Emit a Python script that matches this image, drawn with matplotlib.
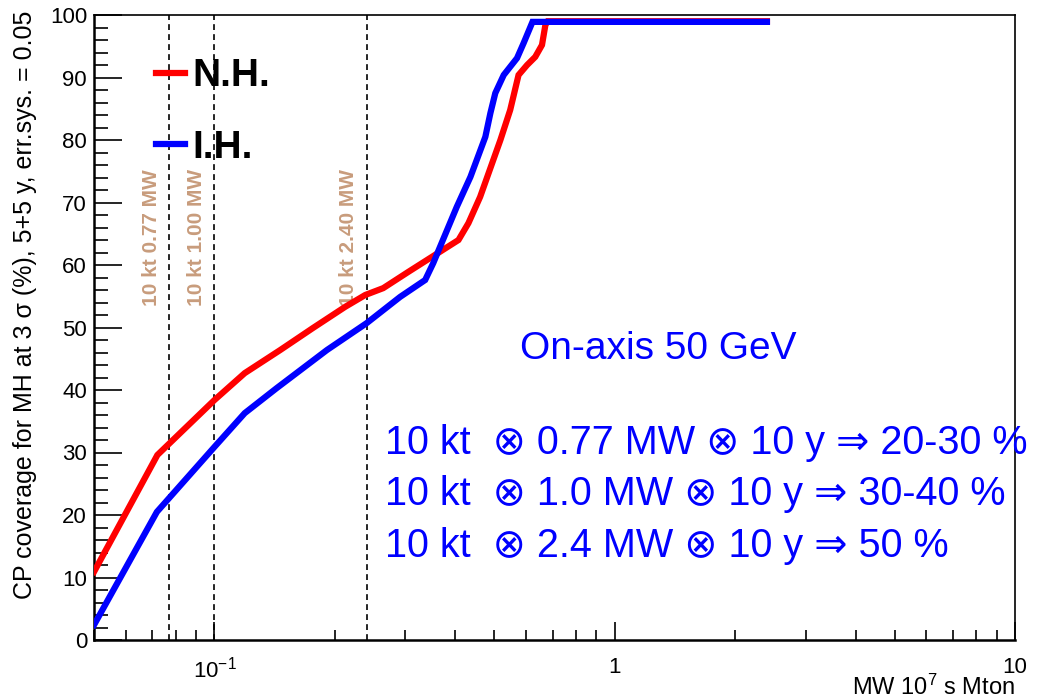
import matplotlib
matplotlib.use('Agg')
import matplotlib.pyplot as plt
from matplotlib.ticker import FixedLocator, NullFormatter, MultipleLocator

plt.rcParams['font.family'] = ['Liberation Sans', 'DejaVu Sans']
plt.rcParams['mathtext.fontset'] = 'custom'
plt.rcParams['mathtext.rm'] = 'Liberation Sans'

# Normal hierarchy (red)
x_nh = [0.05, 0.072, 0.1, 0.119, 0.146, 0.176, 0.212, 0.238, 0.264, 0.305,
        0.407, 0.431, 0.461, 0.518, 0.548, 0.575, 0.604, 0.633, 0.658, 0.671,
        0.68, 2.4]
y_nh = [10.9, 29.6, 38.4, 42.7, 46.4, 49.9, 53.3, 55.2, 56.3, 58.9,
        64.0, 66.7, 70.9, 80.0, 84.8, 90.4, 92.0, 93.3, 95.2, 98.4,
        99.0, 99.0]

# Inverted hierarchy (blue)
x_ih = [0.05, 0.0718, 0.1, 0.119, 0.143, 0.191, 0.24, 0.291, 0.336, 0.352,
        0.366, 0.403, 0.436, 0.475, 0.489, 0.503, 0.528, 0.570, 0.592, 0.623,
        2.4]
y_ih = [2.4, 20.5, 30.9, 36.3, 40.3, 46.4, 50.7, 54.9, 57.6, 60.3,
        62.9, 69.3, 74.1, 80.5, 84.3, 87.5, 90.4, 93.1, 95.5, 98.9,
        98.9]

# reference exposures (dashed lines)
ref_x = [0.077, 0.1, 0.24]
ref_labels = ['10 kt 0.77 MW', '10 kt 1.00 MW', '10 kt 2.40 MW']

x_ticks = [0.1, 1, 10]
x_tick_labels = [r'$\mathregular{10^{-1}}$', '1', '10']

info_lines = ['10 kt  \u2297 0.77 MW \u2297 10 y \u21d2 20-30 %',
              '10 kt  \u2297 1.0 MW \u2297 10 y \u21d2 30-40 %',
              '10 kt  \u2297 2.4 MW \u2297 10 y \u21d2 50 %']
info_y = [0.2976, 0.216, 0.1328]

fig = plt.figure(figsize=(10.47, 6.98), dpi=100)
ax = fig.add_axes([94 / 1047, 1 - 640 / 698, 921 / 1047, 625 / 698])

ax.set_xscale('log')
ax.set_xlim(0.05, 10)
ax.set_ylim(0, 100)

for xv, lab in zip(ref_x, ref_labels):
    ax.axvline(xv, color='black', lw=1.2, dashes=(3.5, 2.5), zorder=1)
    ax.annotate(lab, xy=(xv, 64.4), xytext=(-6, 0), textcoords='offset points',
                rotation=90, ha='right', va='center', fontsize=15,
                fontweight='bold', color='#c89c7c', zorder=1)

l_nh, = ax.plot(x_nh, y_nh, color='#ff0000', lw=4.5, zorder=3,
                solid_joinstyle='miter')
l_ih, = ax.plot(x_ih, y_ih, color='#0000ff', lw=4.5, zorder=4,
                solid_joinstyle='miter')

ax.legend([l_nh, l_ih], ['N.H.', 'I.H.'], loc='upper left',
          bbox_to_anchor=(0.0673, 0.931), frameon=False, borderpad=0,
          borderaxespad=0, handlelength=0.74, handletextpad=0.2,
          labelspacing=0.92, prop={'weight': 'bold', 'size': 28})

ax.text(0.613, 0.4496, 'On-axis 50 GeV', transform=ax.transAxes,
        ha='center', va='baseline', fontsize=28, color='#0000ff')
for line, yv in zip(info_lines, info_y):
    ax.text(0.316, yv, line, transform=ax.transAxes,
            ha='left', va='baseline', fontsize=28.5, color='#0000ff')

ax.xaxis.set_major_locator(FixedLocator(x_ticks))
ax.set_xticklabels(x_tick_labels)
ax.xaxis.set_minor_formatter(NullFormatter())
ax.yaxis.set_major_locator(MultipleLocator(10))
ax.yaxis.set_minor_locator(MultipleLocator(2))

ax.tick_params(axis='both', which='both', direction='in', top=False,
               right=False, labelsize=16, width=1.2)
ax.tick_params(axis='y', which='major', length=20, pad=5)
ax.tick_params(axis='y', which='minor', length=10)
ax.tick_params(axis='x', which='major', length=13, pad=12)
ax.tick_params(axis='x', which='minor', length=7)

for s in ['left', 'bottom']:
    ax.spines[s].set_linewidth(1.8)
for s in ['top', 'right']:
    ax.spines[s].set_linewidth(1.2)

ax.text(-0.075, 0.536, 'CP coverage for MH at 3 \u03c3 (%), 5+5 y, err.sys. = 0.05',
        transform=ax.transAxes, rotation=90, ha='center', va='center',
        fontsize=18)
ax.text(1.0, -0.088, r'MW $\mathregular{10^{7}}$ s Mton', transform=ax.transAxes,
        ha='right', va='baseline', fontsize=17)

fig.savefig('out.png', dpi=100)
